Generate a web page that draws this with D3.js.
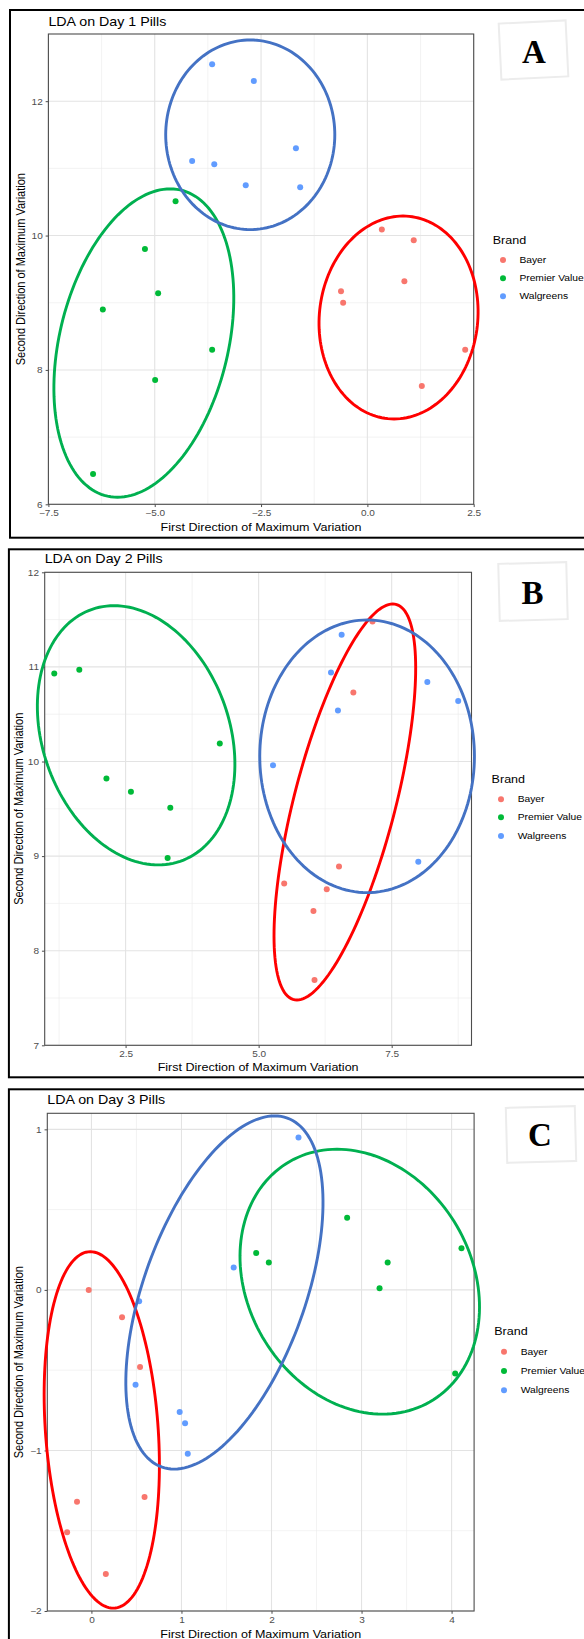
<!DOCTYPE html>
<html><head><meta charset="utf-8">
<script src="https://cdn.jsdelivr.net/npm/d3@7"></script>
<style>
body{margin:0;background:#fff}
svg{display:block}
text{font-family:"Liberation Sans",Arial,sans-serif}
</style>
</head><body>
<svg id="chart" width="584" height="1639"></svg>
<script>
// ---------- data ----------
const brands = ["Bayer", "Premier Value", "Walgreens"];
const pointColors = ["#F8766D", "#00BA38", "#619CFF"];
const ellipseColors = ["#FF0000", "#00B050", "#4472C4"];
const panelTitles = ["LDA on Day 1 Pills", "LDA on Day 2 Pills", "LDA on Day 3 Pills"];
const panelLetters = ["A", "B", "C"];
const xTitle = "First Direction of Maximum Variation";
const yTitle = "Second Direction of Maximum Variation";
const legendTitle = "Brand";

// Day 1
const day1Bayer = [[0.34,10.09],[1.09,9.93],[0.87,9.32],[-0.62,9.17],[-0.57,9.00],[2.30,8.30],[1.28,7.76]];
const day1Premier = [[-4.51,10.51],[-5.23,9.80],[-4.92,9.14],[-6.22,8.90],[-3.65,8.30],[-4.99,7.85],[-6.45,6.45]];
const day1Walgreens = [[-3.65,12.55],[-2.67,12.30],[-1.68,11.30],[-4.12,11.11],[-3.60,11.06],[-2.86,10.75],[-1.58,10.72]];
// ellipse: [centerX, centerY, halfWidth, halfHeight, x-shift of top point]  (Bayer, Premier Value, Walgreens)
const day1Ellipses = [[0.733,8.78,1.87,1.51,0.105],[-5.256,8.40,2.115,2.295,0.62],[-2.754,11.50,1.988,1.411,0]];
const day1XDomain = [-7.5, 2.5];
const day1YDomain = [6, 13];
const day1XTicks = [-7.5,-5,-2.5,0,2.5];
const day1XLabels = ["\u22127.5","\u22125.0","\u22122.5","0.0","2.5"];
const day1XMinor = [-6.25,-3.75,-1.25,1.25];
const day1YTicks = [6,8,10,12];
const day1YLabels = ["6","8","10","12"];
const day1YMinor = [7,9,11];

// Day 2
const day2Bayer = [[7.14,11.48],[6.78,10.73],[6.51,8.89],[5.48,8.71],[6.28,8.65],[6.03,8.42],[6.05,7.69]];
const day2Premier = [[1.16,10.93],[1.63,10.97],[4.27,10.19],[2.14,9.82],[2.60,9.68],[3.34,9.51],[3.29,8.98]];
const day2Walgreens = [[6.56,11.34],[6.36,10.94],[8.17,10.84],[8.75,10.64],[6.49,10.54],[5.27,9.96],[8.00,8.94]];
const day2Ellipses = [[6.62,9.572,1.331,2.093,0.90],[2.698,10.277,1.856,1.370,-0.415],[7.038,10.055,2.017,1.441,0.0]];
const day2XDomain = [0.98, 9.0];
const day2YDomain = [7, 12];
const day2XTicks = [2.5,5,7.5];
const day2XLabels = ["2.5","5.0","7.5"];
const day2XMinor = [1.25,3.75,6.25,8.75];
const day2YTicks = [7,8,9,10,11,12];
const day2YLabels = ["7","8","9","10","11","12"];
const day2YMinor = [7.5,8.5,9.5,10.5,11.5];

// Day 3
const day3Bayer = [[-0.03,0.00],[0.34,-0.17],[0.54,-0.48],[0.59,-1.29],[-0.16,-1.32],[-0.27,-1.51],[0.16,-1.77]];
const day3Premier = [[2.84,0.45],[1.83,0.23],[1.97,0.17],[4.11,0.26],[3.29,0.17],[3.20,0.01],[4.04,-0.52]];
const day3Walgreens = [[2.30,0.95],[1.58,0.14],[0.53,-0.07],[0.49,-0.59],[0.98,-0.76],[1.04,-0.83],[1.07,-1.02]];
const day3Ellipses = [[0.115,-0.872,0.640,1.110,-0.127],[2.98,0.051,1.33,0.825,-0.253],[1.477,-0.016,1.095,1.100,0.558]];
const day3XDomain = [-0.49, 4.25];
const day3YDomain = [-2, 1.1];
const day3XTicks = [0,1,2,3,4];
const day3XLabels = ["0","1","2","3","4"];
const day3XMinor = [-0.5,0.5,1.5,2.5,3.5];
const day3YTicks = [-2,-1,0,1];
const day3YLabels = ["\u22122","\u22121","0","1"];
const day3YMinor = [-1.5,-0.5,0.5];

// ---------- layout (pixels) ----------
const SX = 1.14; // horizontal text stretch of the reference image
const layouts = [
  {frame:[10,10,537.7], plot:[48.4,34,473.7,504.3], titleY:25.7, xTitleY:526.7, yTitleX:20.5,
   legX:492.7, legTitleY:240.3, itemY:[260,278.3,296.3], dotX:503, textX:519.4,
   box:[500,22,67,56,-2.8], letterXY:[534,62.5]},
  {frame:[8.9,549.3,1077.3], plot:[44.7,572.3,471.5,1045.3], titleY:563.3, xTitleY:1067.3, yTitleX:18.6,
   legX:491.6, legTitleY:779, itemY:[799.3,817.3,836], dotX:501, textX:517.7,
   box:[499,563,68,57,-1.5], letterXY:[532.6,603.5]},
  {frame:[8.9,1089.3,1660], plot:[47.3,1113.3,474.1,1611], titleY:1104.3, xTitleY:1634, yTitleX:18.6,
   legX:494.2, legTitleY:1330.7, itemY:[1351.7,1371,1390.3], dotX:504, textX:520.7,
   box:[506.5,1107,69,55,-1.5], letterXY:[540,1145.5]}
];

const panelData = [
  {pts:[day1Bayer,day1Premier,day1Walgreens], ell:day1Ellipses, xd:day1XDomain, yd:day1YDomain,
   xt:day1XTicks, xl:day1XLabels, xm:day1XMinor, yt:day1YTicks, yl:day1YLabels, ym:day1YMinor},
  {pts:[day2Bayer,day2Premier,day2Walgreens], ell:day2Ellipses, xd:day2XDomain, yd:day2YDomain,
   xt:day2XTicks, xl:day2XLabels, xm:day2XMinor, yt:day2YTicks, yl:day2YLabels, ym:day2YMinor},
  {pts:[day3Bayer,day3Premier,day3Walgreens], ell:day3Ellipses, xd:day3XDomain, yd:day3YDomain,
   xt:day3XTicks, xl:day3XLabels, xm:day3XMinor, yt:day3YTicks, yl:day3YLabels, ym:day3YMinor}
];

const svg = d3.select("#chart");

function stretchedText(g, x, y, str, size, opts = {}) {
  const t = g.append("text")
    .attr("transform", `translate(${x},${y}) scale(${SX},1)` + (opts.rotate ? ` rotate(${opts.rotate})` : ""))
    .attr("font-size", size)
    .attr("fill", opts.fill || "#000")
    .attr("text-anchor", opts.anchor || "start")
    .text(str);
  if (opts.dy) t.attr("dy", opts.dy);
  if (opts.weight) t.attr("font-weight", opts.weight);
  if (opts.family) t.style("font-family", opts.family);
  return t;
}

panelData.forEach((pd, i) => {
  const L = layouts[i];
  const [pl, pt, pr, pb] = L.plot;
  const g = svg.append("g");

  // outer frame
  g.append("rect").attr("x", L.frame[0]).attr("y", L.frame[1])
    .attr("width", 640).attr("height", L.frame[2] - L.frame[1])
    .attr("fill", "none").attr("stroke", "#000").attr("stroke-width", 2);

  const x = d3.scaleLinear().domain(pd.xd).range([pl, pr]);
  const y = d3.scaleLinear().domain(pd.yd).range([pb, pt]);

  // panel background + grid
  g.append("rect").attr("x", pl).attr("y", pt).attr("width", pr - pl).attr("height", pb - pt).attr("fill", "#fff");
  const grid = g.append("g");
  grid.selectAll(".vm").data(pd.xm.filter(v => v > pd.xd[0] && v < pd.xd[1])).join("line")
    .attr("x1", d => x(d)).attr("x2", d => x(d)).attr("y1", pt).attr("y2", pb)
    .attr("stroke", "#ebebeb").attr("stroke-width", 0.6);
  grid.selectAll(".hm").data(pd.ym.filter(v => v > pd.yd[0] && v < pd.yd[1])).join("line")
    .attr("y1", d => y(d)).attr("y2", d => y(d)).attr("x1", pl).attr("x2", pr)
    .attr("stroke", "#ebebeb").attr("stroke-width", 0.6);
  grid.selectAll(".vM").data(pd.xt).join("line")
    .attr("x1", d => x(d)).attr("x2", d => x(d)).attr("y1", pt).attr("y2", pb)
    .attr("stroke", "#e3e3e3").attr("stroke-width", 1.1);
  grid.selectAll(".hM").data(pd.yt).join("line")
    .attr("y1", d => y(d)).attr("y2", d => y(d)).attr("x1", pl).attr("x2", pr)
    .attr("stroke", "#e3e3e3").attr("stroke-width", 1.1);

  // points
  pd.pts.forEach((arr, k) => {
    g.append("g").selectAll("circle").data(arr).join("circle")
      .attr("cx", d => x(d[0])).attr("cy", d => y(d[1])).attr("r", 3)
      .attr("fill", pointColors[k]);
  });

  // panel border
  g.append("rect").attr("x", pl).attr("y", pt).attr("width", pr - pl).attr("height", pb - pt)
    .attr("fill", "none").attr("stroke", "#4d4d4d").attr("stroke-width", 1.1);

  // axes
  const xa = d3.axisBottom(x).tickValues(pd.xt).tickFormat((d, j) => pd.xl[j]).tickSize(2.75).tickPadding(3.2);
  const gx = g.append("g").attr("transform", `translate(0,${pb})`).call(xa);
  gx.select(".domain").remove();
  gx.selectAll("line").attr("stroke", "#4d4d4d");
  gx.selectAll("text").attr("font-size", 8.8).attr("fill", "#4d4d4d")
    .attr("font-family", "Liberation Sans, Arial, sans-serif")
    .attr("transform", `scale(${SX},1)`);

  const ya = d3.axisLeft(y).tickValues(pd.yt).tickFormat((d, j) => pd.yl[j]).tickSize(2.75).tickPadding(2.95);
  const gy = g.append("g").attr("transform", `translate(${pl},0)`).call(ya);
  gy.select(".domain").remove();
  gy.selectAll("line").attr("stroke", "#4d4d4d");
  gy.selectAll("text").attr("font-size", 8.8).attr("fill", "#4d4d4d")
    .attr("font-family", "Liberation Sans, Arial, sans-serif")
    .attr("x", -(2.75 + 2.95) / SX)
    .attr("transform", `scale(${SX},1)`);

  // ellipses (annotation overlays, not clipped)
  const line = d3.line().x(d => x(d[0])).y(d => y(d[1])).curve(d3.curveLinearClosed);
  pd.ell.forEach((e, k) => {
    const [cx, cy, W, H, s] = e;
    const h = Math.sqrt(Math.max(W * W - s * s, 0));
    const ptsE = d3.range(160).map(j => {
      const t = 2 * Math.PI * j / 160;
      return [cx + s * Math.cos(t) + h * Math.sin(t), cy + H * Math.cos(t)];
    });
    g.append("path").attr("d", line(ptsE)).attr("fill", "none")
      .attr("stroke", ellipseColors[k]).attr("stroke-width", 2.9);
  });

  // titles
  stretchedText(g, pl, L.titleY, panelTitles[i], 12.5, {fill: "#000"});
  stretchedText(g, (pl + pr) / 2, L.xTitleY, xTitle, 11, {anchor: "middle", dy: "0.35em"});
  stretchedText(g, L.yTitleX, (pt + pb) / 2, yTitle, 11, {anchor: "middle", dy: "0.35em", rotate: -90});

  // legend
  stretchedText(g, L.legX, L.legTitleY, legendTitle, 11, {dy: "0.35em"});
  brands.forEach((b, k) => {
    g.append("circle").attr("cx", L.dotX).attr("cy", L.itemY[k]).attr("r", 3).attr("fill", pointColors[k]);
    stretchedText(g, L.textX, L.itemY[k], b, 9, {dy: "0.35em"});
  });

  // letter box
  const [bx, by, bw, bh, rot] = L.box;
  g.append("rect").attr("x", bx).attr("y", by).attr("width", bw).attr("height", bh)
    .attr("fill", "#fff").attr("stroke", "#ececec").attr("stroke-width", 2)
    .attr("transform", `rotate(${rot},${bx + bw / 2},${by + bh / 2})`);
  g.append("text").attr("x", L.letterXY[0]).attr("y", L.letterXY[1])
    .attr("text-anchor", "middle").attr("font-size", 33).attr("font-weight", "bold")
    .style("font-family", "'Liberation Serif','Times New Roman',serif")
    .attr("fill", "#000").text(panelLetters[i]);
});
</script>
</body></html>
